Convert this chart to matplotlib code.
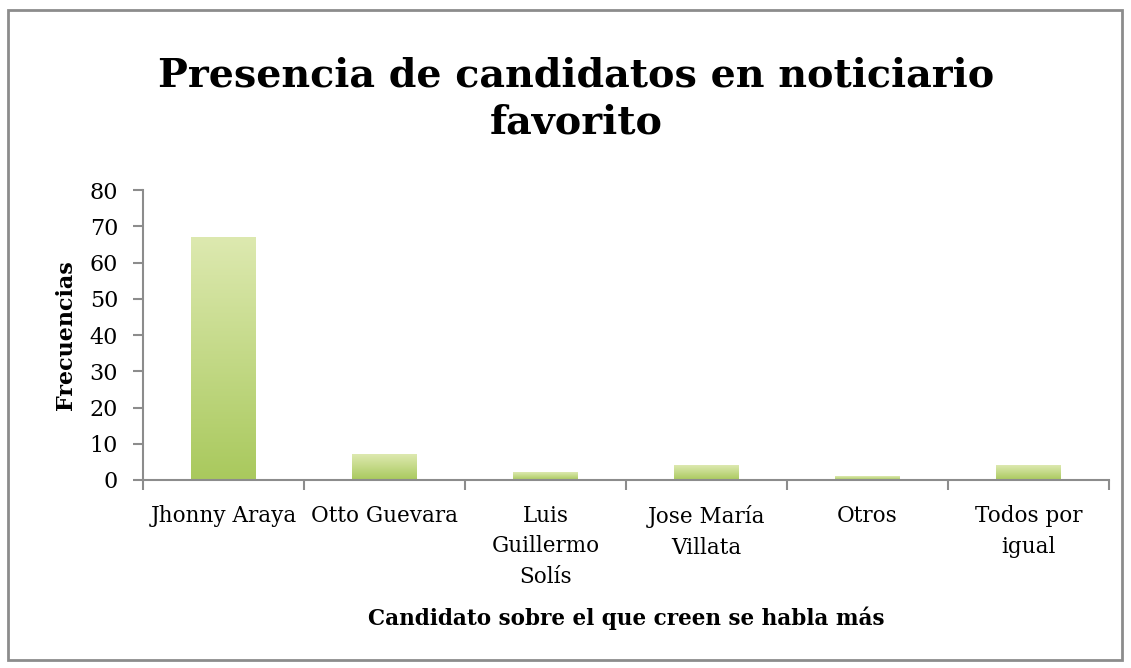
import numpy as np
import matplotlib.pyplot as plt
from matplotlib.colors import LinearSegmentedColormap
from matplotlib.patches import Rectangle

# Data
candidates = ["Jhonny Araya", "Otto Guevara", "Luis\nGuillermo\nSolís",
              "Jose María\nVillata", "Otros", "Todos por\nigual"]
frequencies = [67, 7, 2, 4, 1, 4]
y_ticks = [0, 10, 20, 30, 40, 50, 60, 70, 80]

title = "Presencia de candidatos en noticiario\nfavorito"
x_title = "Candidato sobre el que creen se habla más"
y_title = "Frecuencias"

serif = ["DejaVu Serif"]
axis_grey = "#8c8c8c"

fig = plt.figure(figsize=(11.31, 6.68), dpi=100)
ax = fig.add_axes([143 / 1131, 1 - 480 / 668, (1109 - 143) / 1131, (480 - 190) / 668])

x = np.arange(len(candidates))
bars = ax.bar(x, frequencies, width=0.4, color="none", edgecolor="none")

# vertical gradient fill per bar, light at top, darker green at the bottom
grad = LinearSegmentedColormap.from_list("g", ["#a9c95d", "#dde9b0"])
gradient = np.linspace(0, 1, 256).reshape(-1, 1)
for b in bars:
    bx, by = b.get_x(), b.get_y()
    w, h = b.get_width(), b.get_height()
    ax.imshow(gradient, cmap=grad, origin="lower", aspect="auto",
              extent=[bx, bx + w, by, by + h], zorder=2)

ax.set_xlim(-0.5, len(candidates) - 0.5)
ax.set_ylim(0, 80)
ax.set_yticks(y_ticks)
ax.set_yticklabels([str(t) for t in y_ticks], fontsize=16, family=serif)

# ticks sit between categories
ax.set_xticks(np.arange(-0.5, len(candidates), 1.0))
ax.set_xticklabels([])
ax.set_xticks(x, minor=True)
ax.set_xticklabels(candidates, minor=True, fontsize=15.5, family=serif,
                   linespacing=1.5, va="top")
ax.tick_params(axis="x", which="minor", length=0, pad=18)
ax.tick_params(axis="x", which="major", length=7, width=1.5, color=axis_grey, direction="out")
ax.tick_params(axis="y", length=7, width=1.5, color=axis_grey, direction="out", pad=11)

for side in ["top", "right"]:
    ax.spines[side].set_visible(False)
for side in ["left", "bottom"]:
    ax.spines[side].set_color(axis_grey)
    ax.spines[side].set_linewidth(1.5)

ax.set_ylabel(y_title, fontsize=16, fontweight="bold", family=serif, labelpad=9)
fig.text(626 / 1131, 1 - 618 / 668, x_title, fontsize=15.5, fontweight="bold",
         family=serif, ha="center", va="center")
fig.text(576 / 1131, 1 - 99 / 668, title, fontsize=28.5, fontweight="bold",
         family=serif, ha="center", va="center", linespacing=1.3)

# outer chart border
fig.add_artist(Rectangle((8 / 1131, 8 / 668), 1114 / 1131, 650 / 668,
                         transform=fig.transFigure, fill=False,
                         edgecolor="#8c8c8c", linewidth=2))

fig.savefig("out.png", dpi=100)
